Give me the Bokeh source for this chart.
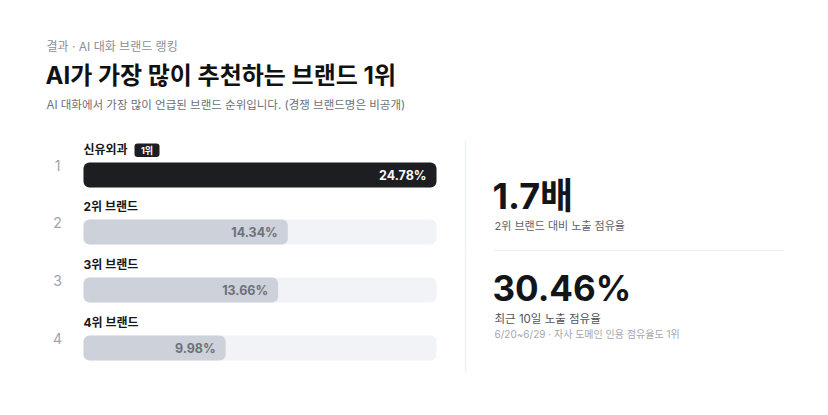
from bokeh.plotting import figure
from bokeh.models import Range1d, ColumnDataSource
from bokeh.core.properties import value
from bokeh.embed import file_html
from bokeh.resources import INLINE

# ---- data ----
eyebrow = "결과 · AI 대화 브랜드 랭킹"
title = "AI가 가장 많이 추천하는 브랜드 1위"
subtitle = "AI 대화에서 가장 많이 언급된 브랜드 순위입니다. (경쟁 브랜드명은 비공개)"
ranks = ["1", "2", "3", "4"]
brands = ["신유외과", "2위 브랜드", "3위 브랜드", "4위 브랜드"]
shares = [24.78, 14.34, 13.66, 9.98]
badge = "1위"
stat1_value = "1.7배"
stat1_label = "2위 브랜드 대비 노출 점유율"
stat2_value = "30.46%"
stat2_label = "최근 10일 노출 점유율"
stat2_note = "6/20~6/29 · 자사 도메인 인용 점유율도 1위"

# ---- layout constants ----
W, H = 828, 415
FONT = value("Inter, 'Noto Sans CJK KR'")
TRACK_L, TRACK_R = 83, 436
ROW_Y = [174.5, 231.5, 289.5, 347.5]
BAR_H = 25

vmax = max(shares)
span = TRACK_R - TRACK_L

p = figure(width=W, height=H, output_backend="svg", toolbar_location=None,
           x_range=Range1d(0, W), y_range=Range1d(H, 0),
           x_axis_location=None, y_axis_location=None,
           min_border=0, outline_line_color=None, background_fill_color="white",
           border_fill_color="white")
p.grid.visible = False
p.extra_x_ranges = {"val": Range1d(-TRACK_L * vmax / span, (W - TRACK_L) * vmax / span)}

# header texts
p.text(x=[46], y=[46], text=[eyebrow], text_font=FONT, text_font_size="12px",
       text_color="#8a8f98", text_baseline="middle")
p.text(x=[45], y=[75], text=[title], text_font=FONT, text_font_size="24px",
       text_font_style="bold", text_color="#111111", text_baseline="middle")
p.text(x=[46], y=[104], text=[subtitle], text_font=FONT, text_font_size="11.5px",
       text_color="#6b6f78", text_baseline="middle")

# tracks
src = ColumnDataSource(dict(
    y=ROW_Y, share=shares, brand=brands, rank=ranks,
    label=[f"{s:.2f}%" for s in shares],
    color=["#1d1e22"] + ["#cdd1d9"] * (len(shares) - 1),
    tcolor=["#ffffff"] + ["#6b707b"] * (len(shares) - 1),
    name_y=[y - 25.5 for y in ROW_Y],
    rank_y=[y - 9.5 for y in ROW_Y],
    vmax=[vmax] * len(shares),
))
p.hbar(y="y", left=0, right="vmax", height=BAR_H, source=src, x_range_name="val",
       fill_color="#f2f3f6", line_color=None, border_radius=6)
p.hbar(y="y", left=0, right="share", height=BAR_H, source=src, x_range_name="val",
       fill_color="color", line_color=None, border_radius=6)
p.text(x="share", y="y", text="label", source=src, x_range_name="val", x_offset=-10,
       text_align="right", text_baseline="middle", text_font=FONT, text_font_size="12.5px",
       text_font_style="bold", text_color="tcolor")
p.text(x=TRACK_L, y="name_y", text="brand", source=src, text_font=FONT,
       text_font_size="12px", text_font_style="bold", text_color="#16171a",
       text_baseline="middle")
p.text(x=57, y="rank_y", text="rank", source=src, text_font=FONT,
       text_font_size="14px", text_color="#a0a4ac", text_baseline="middle",
       text_align="center")

# badge
p.quad(left=[134], right=[159], top=[143], bottom=[156.5], fill_color="#1d1e22",
       line_color=None, border_radius=3)
p.text(x=[146.5], y=[150], text=[badge], text_font=FONT, text_font_size="9px",
       text_font_style="bold", text_color="white", text_align="center",
       text_baseline="middle")

# dividers
p.segment(x0=[465], y0=[140], x1=[465], y1=[372], line_color="#f0f1f3", line_width=1.5)
p.segment(x0=[494], y0=[250], x1=[784], y1=[250], line_color="#eceef1", line_width=1)

# stats
p.text(x=[492], y=[195], text=[stat1_value], text_font=FONT, text_font_size="36px",
       text_font_style="bold", text_color="#141518", text_baseline="middle")
p.text(x=[494], y=[225], text=[stat1_label], text_font=FONT, text_font_size="11px",
       text_color="#5d6169", text_baseline="middle")
p.text(x=[492], y=[287], text=[stat2_value], text_font=FONT, text_font_size="35px",
       text_font_style="bold", text_color="#141518", text_baseline="middle")
p.text(x=[494], y=[318], text=[stat2_label], text_font=FONT, text_font_size="11.5px",
       text_color="#4f535b", text_baseline="middle")
p.text(x=[494], y=[333], text=[stat2_note], text_font=FONT, text_font_size="10px",
       text_color="#a3a7ae", text_baseline="middle")

open("out.html", "w").write(file_html(p, INLINE))
